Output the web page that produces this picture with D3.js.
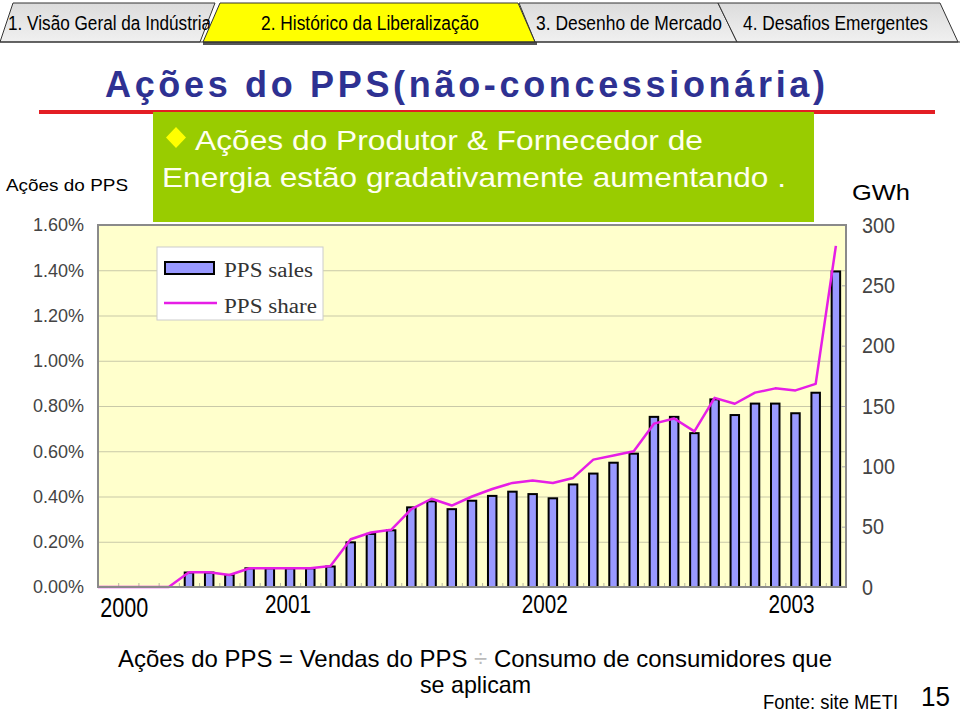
<!DOCTYPE html>
<html>
<head>
<meta charset="utf-8">
<script src="https://cdn.jsdelivr.net/npm/d3@7/dist/d3.min.js"></script>
<style>
  body { margin: 0; background: #fff; }
  svg { display: block; }
</style>
</head>
<body>
<div id="chart"></div>
<script>
// monthly data, April 2000 .. April 2003
var months = d3.timeMonth.range(new Date(2000, 3, 1), new Date(2003, 4, 1));
var salesGWh = [0, 0, 0, 0, 12, 12, 10, 15.5, 15.5, 15.5, 15.5, 17, 37, 44, 47, 66, 71, 64.5,
  71.5, 75.5, 79, 77, 73.5, 85, 94, 103, 110.5, 141, 141, 127.5, 155.5, 142.5, 152, 152, 144, 161, 261.5];
var sharePct = [0, 0, 0, 0, 0.065, 0.065, 0.053, 0.083, 0.083, 0.083, 0.083, 0.093, 0.211, 0.241, 0.253,
  0.344, 0.39, 0.36, 0.40, 0.433, 0.46, 0.471, 0.46, 0.482, 0.563, 0.581, 0.60, 0.722, 0.745, 0.688,
  0.836, 0.81, 0.859, 0.878, 0.869, 0.898, 1.508];
var shareTicks = [0, 0.2, 0.4, 0.6, 0.8, 1.0, 1.2, 1.4, 1.6];
var gwhTicks = [0, 50, 100, 150, 200, 250, 300];
var yearLabels = ["2000", "2001", "2002", "2003"];
var yearLabelAt = [0.8, 8.9, 21.6, 33.8]; // month index where the year text sits
var tabs = ["1. Visão Geral da Indústria", "2. Histórico da Liberalização", "3. Desenho de Mercado", "4. Desafios Emergentes"];

var sans = "'Liberation Sans', Arial, sans-serif";

var W = 960, H = 712;
var margin = { top: 225, right: 114, bottom: 125, left: 98 };
var width = W - margin.left - margin.right;
var height = H - margin.top - margin.bottom;

var svg = d3.select("#chart").append("svg")
  .attr("width", W).attr("height", H)
  .attr("viewBox", "0 0 " + W + " " + H);

// ---- header tabs ----
var tabPolys = [
  [[0, 42], [13, 3], [215, 3], [200, 42]],
  [[535, 42], [519, 3], [718, 3], [737, 42]],
  [[737, 42], [718, 3], [940, 3], [958, 42]],
  [[203, 42], [220, 3], [518, 3], [535, 42]]
];
var tabText = [
  { t: tabs[0], x: 8, len: 203 },
  { t: tabs[2], x: 536, len: 186 },
  { t: tabs[3], x: 743, len: 185 },
  { t: tabs[1], x: 261, len: 218 }
];
var grad = svg.append("defs").append("linearGradient")
  .attr("id", "tabg").attr("x1", 0).attr("y1", 0).attr("x2", 0).attr("y2", 1);
grad.append("stop").attr("offset", "0%").attr("stop-color", "#dcdcdc");
grad.append("stop").attr("offset", "100%").attr("stop-color", "#f0f0f0");

svg.append("rect").attr("x", 203).attr("y", 42).attr("width", 334).attr("height", 3).attr("fill", "#555");
tabPolys.forEach(function (p, i) {
  svg.append("polygon")
    .attr("points", p.map(function (d) { return d.join(","); }).join(" "))
    .attr("fill", i === 3 ? "#ffff00" : "url(#tabg)")
    .attr("stroke", "#333").attr("stroke-width", 1);
  svg.append("text")
    .attr("x", tabText[i].x).attr("y", 30)
    .attr("font-family", sans).attr("font-size", 20)
    .attr("textLength", tabText[i].len).attr("lengthAdjust", "spacingAndGlyphs")
    .attr("fill", "#000").text(tabText[i].t);
});
svg.append("line").attr("x1", 0).attr("x2", W).attr("y1", 42).attr("y2", 42)
  .attr("stroke", "#333").attr("stroke-width", 1.2);

// ---- title ----
svg.append("text")
  .attr("x", 105).attr("y", 97)
  .attr("font-family", sans).attr("font-weight", "bold").attr("font-size", 36)
  .attr("textLength", 720).attr("lengthAdjust", "spacing")
  .attr("fill", "#2e3192").text("Ações do PPS(não-concessionária)");
svg.append("rect").attr("x", 39).attr("y", 110).attr("width", 896).attr("height", 4).attr("fill", "#e31e24");

// ---- green callout ----
svg.append("rect").attr("x", 153).attr("y", 112).attr("width", 661).attr("height", 110).attr("fill", "#99cc00");
svg.append("path").attr("d", "M176,127 L186,137.5 L176,148 L166,137.5 Z").attr("fill", "#ffff00");
svg.append("text").attr("x", 195).attr("y", 150)
  .attr("font-family", sans).attr("font-size", 28).attr("fill", "#fffff0")
  .attr("textLength", 508).attr("lengthAdjust", "spacingAndGlyphs")
  .text("Ações do Produtor & Fornecedor de");
svg.append("text").attr("x", 162).attr("y", 187)
  .attr("font-family", sans).attr("font-size", 28).attr("fill", "#fffff0")
  .attr("textLength", 624).attr("lengthAdjust", "spacingAndGlyphs")
  .text("Energia estão gradativamente aumentando .");

// ---- axis titles ----
svg.append("text").attr("x", 6).attr("y", 191)
  .attr("font-family", sans).attr("font-size", 17).attr("fill", "#000")
  .attr("textLength", 122).attr("lengthAdjust", "spacingAndGlyphs")
  .text("Ações do  PPS");
svg.append("text").attr("x", 852).attr("y", 200)
  .attr("font-family", sans).attr("font-size", 22).attr("fill", "#000")
  .attr("textLength", 58).attr("lengthAdjust", "spacingAndGlyphs")
  .text("GWh");

// ---- scales ----
var x = d3.scaleBand().domain(months).range([0, width]).padding(0);
var xi = d3.scaleLinear().domain([0, months.length]).range([0, width]);
var yL = d3.scaleLinear().domain([0, 1.6]).range([height, 0]);
var yR = d3.scaleLinear().domain([0, 300]).range([height, 0]);

var g = svg.append("g").attr("transform", "translate(" + margin.left + "," + margin.top + ")");

g.append("rect").attr("width", width).attr("height", height).attr("fill", "#ffffcc");

// gridlines from the left axis
g.append("g")
  .call(d3.axisLeft(yL).tickValues(shareTicks.slice(1, -1)).tickSize(-width).tickFormat(""))
  .call(function (s) { s.select(".domain").remove(); })
  .selectAll("line").attr("stroke", "#c9c9a8").attr("stroke-width", 1);

// small category ticks along the bottom
g.append("g").attr("transform", "translate(0," + height + ")")
  .call(d3.axisBottom(xi).tickValues(d3.range(1, months.length)).tickSize(-4).tickFormat(""))
  .call(function (s) { s.select(".domain").remove(); })
  .selectAll("line").attr("stroke", "#b8b8a0");

// right-axis inner ticks
g.append("g").attr("transform", "translate(" + width + ",0)")
  .call(d3.axisRight(yR).tickValues(gwhTicks).tickSize(-4).tickFormat(""))
  .call(function (s) { s.select(".domain").remove(); })
  .selectAll("line").attr("stroke", "#aaa");

// bars
var barW = x.bandwidth() * 0.42;
g.selectAll(".bar")
  .data(months.map(function (m, i) { return { m: m, v: salesGWh[i] }; }).filter(function (d) { return d.v > 0; }))
  .enter().append("rect")
  .attr("class", "bar")
  .attr("x", function (d) { return x(d.m) + (x.bandwidth() - barW) / 2; })
  .attr("y", function (d) { return yR(d.v); })
  .attr("width", barW)
  .attr("height", function (d) { return height - yR(d.v); })
  .attr("fill", "#9999ff").attr("stroke", "#000").attr("stroke-width", 2);

// share line
var line = d3.line()
  .x(function (d, i) { return x(months[i]) + x.bandwidth() / 2; })
  .y(function (d) { return yL(d); });
g.append("path").datum(sharePct)
  .attr("d", line)
  .attr("fill", "none").attr("stroke", "#e61ee6").attr("stroke-width", 2.5)
  .attr("stroke-linejoin", "round");

// start the line at the axis
g.append("line").attr("x1", 0).attr("x2", x(months[0]) + x.bandwidth() / 2)
  .attr("y1", yL(0)).attr("y2", yL(0))
  .attr("stroke", "#e61ee6").attr("stroke-width", 2.5);

// frame
g.append("rect").attr("width", width).attr("height", height)
  .attr("fill", "none").attr("stroke", "#8a8a8a").attr("stroke-width", 2);

// left axis labels
var axL = g.append("g")
  .call(d3.axisLeft(yL).tickValues(shareTicks).tickSize(0).tickPadding(14)
    .tickFormat(function (d) { return d3.format(".2f")(d) + "%"; }));
axL.select(".domain").remove();
axL.selectAll("text").attr("font-family", sans).attr("font-size", 18).attr("fill", "#444");

// right axis labels
var axR = g.append("g").attr("transform", "translate(" + width + ",0)")
  .call(d3.axisRight(yR).tickValues(gwhTicks).tickSize(0).tickPadding(16));
axR.select(".domain").remove();
axR.selectAll("text").attr("font-family", sans).attr("font-size", 22).attr("fill", "#444")
  .attr("textLength", function (d) { return String(d).length * 11; })
  .attr("lengthAdjust", "spacingAndGlyphs");

// year labels
g.selectAll(".year").data(yearLabels).enter().append("text")
  .attr("class", "year")
  .attr("x", function (d, i) { return xi(yearLabelAt[i] + 0.5) - (i === 0 ? 24 : 23); })
  .attr("y", function (d, i) { return height + (i === 0 ? 30 : 26); })
  .attr("font-family", sans).attr("font-size", function (d, i) { return i === 0 ? 28 : 25; })
  .attr("textLength", function (d, i) { return i === 0 ? 48 : 46; })
  .attr("lengthAdjust", "spacingAndGlyphs")
  .attr("fill", "#000").text(function (d) { return d; });

// legend
var lg = g.append("g").attr("transform", "translate(59,22)");
lg.append("rect").attr("width", 166).attr("height", 73).attr("fill", "#fff").attr("stroke", "#ccc");
lg.append("rect").attr("x", 8).attr("y", 15).attr("width", 49).attr("height", 12)
  .attr("fill", "#9999ff").attr("stroke", "#000").attr("stroke-width", 2);
lg.append("line").attr("x1", 7).attr("x2", 60).attr("y1", 56).attr("y2", 56)
  .attr("stroke", "#e61ee6").attr("stroke-width", 2.5);
lg.append("text").attr("x", 67).attr("y", 30)
  .attr("font-family", "'Liberation Serif', serif").attr("font-size", 20).attr("fill", "#333")
  .attr("textLength", 89).attr("lengthAdjust", "spacingAndGlyphs").text("PPS sales");
lg.append("text").attr("x", 67).attr("y", 66)
  .attr("font-family", "'Liberation Serif', serif").attr("font-size", 20).attr("fill", "#333")
  .attr("textLength", 93).attr("lengthAdjust", "spacingAndGlyphs").text("PPS share");

// ---- footnote ----
var fn = svg.append("text").attr("x", 118).attr("y", 667)
  .attr("font-family", sans).attr("font-size", 24).attr("fill", "#000")
  .attr("textLength", 714).attr("lengthAdjust", "spacingAndGlyphs");
fn.append("tspan").text("Ações do PPS = Vendas do PPS ");
fn.append("tspan").attr("fill", "#bbb").text("÷");
fn.append("tspan").text(" Consumo de consumidores que");
svg.append("text").attr("x", 420).attr("y", 693)
  .attr("font-family", sans).attr("font-size", 24).attr("fill", "#000")
  .attr("textLength", 111).attr("lengthAdjust", "spacingAndGlyphs")
  .text("se aplicam");
svg.append("text").attr("x", 763).attr("y", 709)
  .attr("font-family", sans).attr("font-size", 20).attr("fill", "#000")
  .attr("textLength", 135).attr("lengthAdjust", "spacingAndGlyphs")
  .text("Fonte: site METI");
svg.append("text").attr("x", 921).attr("y", 706)
  .attr("font-family", sans).attr("font-size", 28).attr("fill", "#000")
  .attr("textLength", 29).attr("lengthAdjust", "spacingAndGlyphs")
  .text("15");
</script>
</body>
</html>
